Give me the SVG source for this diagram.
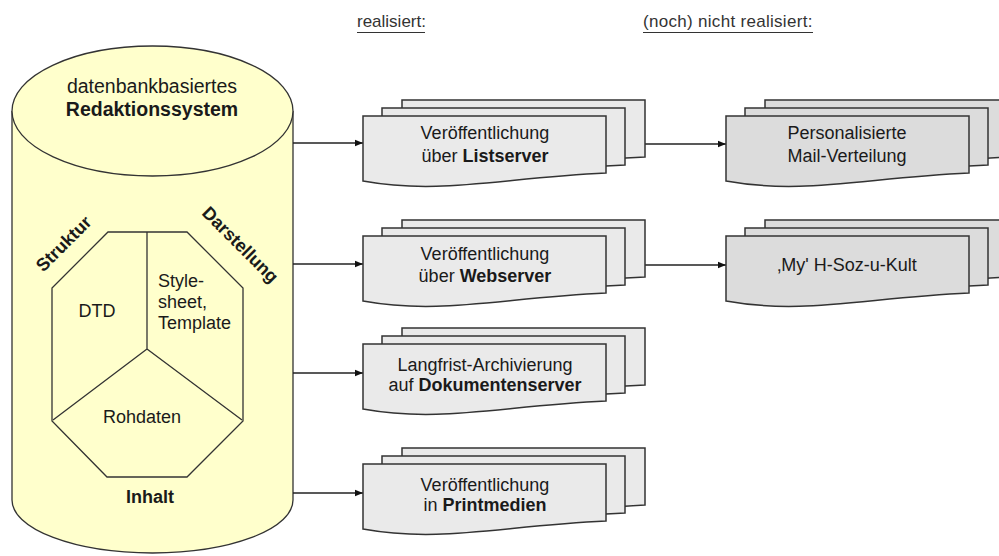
<svg xmlns="http://www.w3.org/2000/svg" xmlns:xlink="http://www.w3.org/1999/xlink" width="999" height="556" viewBox="0 0 999 556">
  <style>
    text { font-family: "Liberation Sans", Arial, sans-serif; font-size: 18px; fill: #1a1a1a; }
    .b { font-weight: bold; }
    .mid { text-anchor: middle; }
    .hdr { font-size: 17px; fill: #333; }
    .outline { stroke: #333; stroke-width: 1.3; fill: none; }
    .cyl { fill: #FFFFCC; stroke: #333; stroke-width: 1.3; }
    .doc1 { fill: #EAEAEA; stroke: #333; stroke-width: 1.5; }
    .doc2 { fill: #DCDCDC; stroke: #333; stroke-width: 1.5; }
    .conn { stroke: #222; stroke-width: 1.3; fill: none; marker-end: url(#arrow); }
  </style>
  <defs>
    <!-- document shape with wavy bottom, origin at top-left corner -->
    <path id="doc" d="M0,0 H243 V57 C137,62 77,79 0,65 Z"/>
    <marker id="arrow" viewBox="0 0 10 10" refX="10" refY="5" markerWidth="8" markerHeight="8" markerUnits="userSpaceOnUse" orient="auto">
      <path d="M0,1 L10,5 L0,9 Z" fill="#111"/>
    </marker>
  </defs>

  <!-- column headers -->
  <g id="headers">
    <text class="hdr" x="357" y="27">realisiert:</text>
    <line x1="357" y1="32.5" x2="425" y2="32.5" stroke="#333" stroke-width="1"/>
    <text class="hdr" x="643" y="27" letter-spacing="0.3">(noch) nicht realisiert:</text>
    <line x1="643" y1="32.5" x2="813" y2="32.5" stroke="#333" stroke-width="1"/>
  </g>

  <!-- database cylinder -->
  <g id="redaktionssystem">
    <path class="cyl" d="M12,111 V500 A140.5,53 0 0 0 293,500 V111"/>
    <ellipse class="cyl" cx="152.5" cy="111" rx="140.5" ry="65"/>
    <text class="mid" x="152" y="93" style="font-size:19.5px">datenbankbasiertes</text>
    <text class="mid b" x="152" y="116" style="font-size:19.5px">Redaktionssystem</text>

    <!-- octagon with three segments -->
    <path class="outline" d="M108,232 H187 L243,288 V421 L187,477 H107 L52,421 V288 Z"/>
    <path class="outline" d="M147,232 V349 M147,349 L53,420 M147,349 L242,420"/>

    <text class="mid b" x="68" y="248" transform="rotate(-45 68 248)">Struktur</text>
    <text class="mid b" x="236" y="249" transform="rotate(45 236 249)">Darstellung</text>
    <text class="mid" x="97" y="317">DTD</text>
    <text x="158" y="287">Style-</text>
    <text x="158" y="308">sheet,</text>
    <text x="158" y="329">Template</text>
    <text class="mid" x="142" y="423">Rohdaten</text>
    <text class="mid b" x="150" y="503">Inhalt</text>
  </g>

  <!-- connectors -->
  <g id="connectors">
    <line class="conn" x1="293" y1="143" x2="363" y2="143"/>
    <line class="conn" x1="293" y1="264" x2="363" y2="264"/>
    <line class="conn" x1="293" y1="373" x2="363" y2="373"/>
    <line class="conn" x1="293" y1="493" x2="363" y2="493"/>
    <line class="conn" x1="645" y1="144" x2="726" y2="144"/>
    <line class="conn" x1="645" y1="265" x2="726" y2="265"/>
  </g>

  <!-- realised channels -->
  <g id="listserver" transform="translate(363,116)">
    <use xlink:href="#doc" x="39" y="-16" class="doc1"/>
    <use xlink:href="#doc" x="19" y="-8" class="doc1"/>
    <use xlink:href="#doc" class="doc1"/>
    <text class="mid" x="122" y="23">Veröffentlichung</text>
    <text class="mid" x="122" y="46">über <tspan class="b">Listserver</tspan></text>
  </g>

  <g id="webserver" transform="translate(363,236)">
    <use xlink:href="#doc" x="39" y="-16" class="doc1"/>
    <use xlink:href="#doc" x="19" y="-8" class="doc1"/>
    <use xlink:href="#doc" class="doc1"/>
    <text class="mid" x="122" y="24">Veröffentlichung</text>
    <text class="mid" x="122" y="46">über <tspan class="b">Webserver</tspan></text>
  </g>

  <g id="dokumentenserver" transform="translate(363,344)">
    <use xlink:href="#doc" x="39" y="-16" class="doc1"/>
    <use xlink:href="#doc" x="19" y="-8" class="doc1"/>
    <use xlink:href="#doc" class="doc1"/>
    <text class="mid" x="122" y="27">Langfrist-Archivierung</text>
    <text class="mid" x="122" y="47">auf <tspan class="b">Dokumentenserver</tspan></text>
  </g>

  <g id="printmedien" transform="translate(363,464)">
    <use xlink:href="#doc" x="39" y="-16" class="doc1"/>
    <use xlink:href="#doc" x="19" y="-8" class="doc1"/>
    <use xlink:href="#doc" class="doc1"/>
    <text class="mid" x="122" y="27">Veröffentlichung</text>
    <text class="mid" x="122" y="47">in <tspan class="b">Printmedien</tspan></text>
  </g>

  <!-- planned channels -->
  <g id="mailverteilung" transform="translate(726,116)">
    <use xlink:href="#doc" x="39" y="-16" class="doc2"/>
    <use xlink:href="#doc" x="19" y="-8" class="doc2"/>
    <use xlink:href="#doc" class="doc2"/>
    <text class="mid" x="121" y="23">Personalisierte</text>
    <text class="mid" x="121" y="46">Mail-Verteilung</text>
  </g>

  <g id="myhsozukult" transform="translate(726,236)">
    <use xlink:href="#doc" x="39" y="-16" class="doc2"/>
    <use xlink:href="#doc" x="19" y="-8" class="doc2"/>
    <use xlink:href="#doc" class="doc2"/>
    <text class="mid" x="121" y="35">‚My' H-Soz-u-Kult</text>
  </g>
</svg>
